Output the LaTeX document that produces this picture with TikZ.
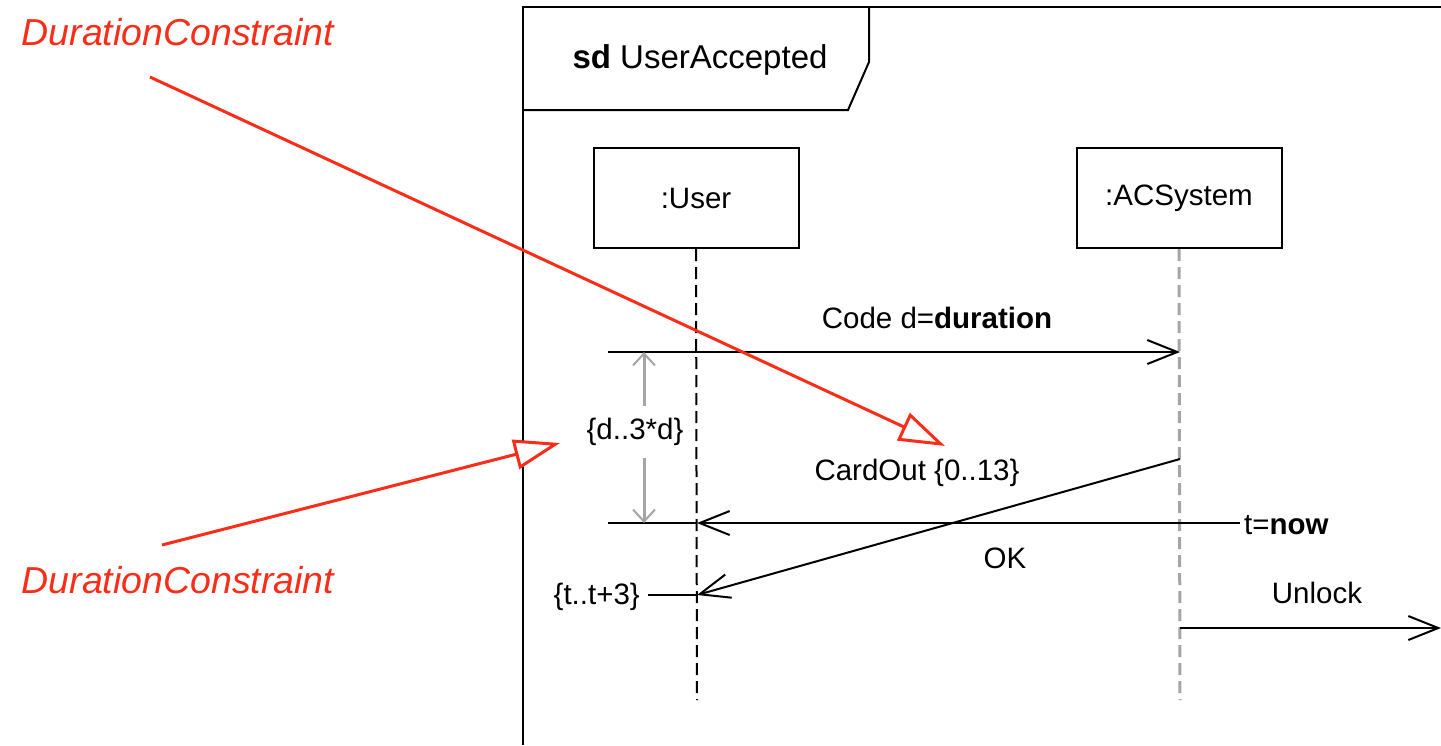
\documentclass[tikz,border=0pt]{standalone}
\usepackage{fontspec}
\setmainfont{Liberation Sans}
\usetikzlibrary{arrows.meta}
\definecolor{annot}{RGB}{250,45,25}
\definecolor{lifegray}{RGB}{165,165,165}

\begin{document}
\begin{tikzpicture}[x=1pt,y=-1pt,
  txt/.style={font=\fontsize{29.5}{34}\selectfont, inner sep=0pt},
  note/.style={font=\fontsize{37.5}{44}\selectfont\itshape, text=annot, inner sep=0pt},
  lifebox/.style={draw, line width=2pt, minimum width=205pt, minimum height=100pt,
    inner sep=0pt, font=\fontsize{29.5}{34}\selectfont},
  msg/.style={line width=2pt, -{Straight Barb[length=30pt,width=24pt]}},
  plain/.style={line width=2pt},
  durarr/.style={line width=3pt, draw=lifegray, -{Straight Barb[length=12pt,width=22pt,line width=2pt]}},
  annarrow/.style={line width=3pt, draw=annot, -{Triangle[length=46pt,width=30pt,fill=white,line width=3pt]}},
  userline/.style={line width=2pt, dash pattern=on 12pt off 6pt},
  sysline/.style={line width=3pt, draw=lifegray, dash pattern=on 12pt off 6pt}
]
\useasboundingbox (0,0) rectangle (1441,745);

% interaction frame and its name tab
\draw[line width=2.5pt] (1441,7) -- (523,7) -- (523,745);
\draw[line width=2pt] (523,110) -- (848,110) -- (869,62) -- (869,7);
\node[font=\fontsize{33}{38}\selectfont, inner sep=0pt] (title) at (700,60) {\textbf{sd} UserAccepted};

% lifelines
\node[lifebox] (user) at (696,198) {:User};
\node[lifebox] (acs) at (1179,198) {:ACSystem};
\coordinate (uend) at (697,700);
\coordinate (aend) at (1180,700);
\draw[userline] (user.south) -- (uend);
\draw[sysline] (acs.south) -- (aend);

% message points
\coordinate (codeL) at (608,352);
\coordinate (codeR) at (1180,352);
\coordinate (okL) at (608,523);
\coordinate (okU) at (697,523);
\coordinate (okA) at (1180,523);
\coordinate (nowR) at (1240,523);
\coordinate (cardA) at (1180,459);
\coordinate (cardU) at (697,595);
\coordinate (tL) at (648,595);
\coordinate (unA) at (1180,628);
\coordinate (unR) at (1441,628);

% Code message
\draw[msg] (codeL) -- (codeR);
\node[txt] (codelbl) at (937,318) {Code d=\textbf{duration}};

% OK message with time observation
\draw[msg] (okA) -- (okU);
\draw[plain] (okU) -- (okL);
\draw[plain] (okA) -- (nowR);
\node[txt, anchor=west] (now) at (1244,525) {t=\textbf{now}};
\node[txt] (oklbl) at (1005,558) {OK};

% CardOut message
\draw[msg] (cardA) -- (cardU);
\node[txt] (cardlbl) at (917,473) {CardOut \{0..13\}};

% time constraint on the User lifeline
\draw[plain] (tL) -- (cardU);
\node[txt, anchor=east] (tcons) at (640,597) {\{t..t+3\}};

% duration constraint between Code and OK
\coordinate (dtop) at (644,352);
\coordinate (dbot) at (644,523);
\node[txt] (dcons) at (635,432) {\{d..3*d\}};
\draw[durarr] ([yshift=12pt]dcons.north -| dtop) -- (dtop);
\draw[durarr] ([yshift=-12pt]dcons.south -| dbot) -- (dbot);

% Unlock message
\draw[msg] (unA) -- (unR);
\node[txt] (unlbl) at (1317,593) {Unlock};

% annotations
\node[note] (note1) at (178,32) {DurationConstraint};
\node[note] (note2) at (178,580) {DurationConstraint};
\coordinate (n1s) at (150,77);
\coordinate (n1t) at (945,446);
\coordinate (n2s) at (162,545);
\coordinate (n2t) at (560,443);
\draw[annarrow] (n1s) -- (n1t);
\draw[annarrow] (n2s) -- (n2t);
\end{tikzpicture}
\end{document}
